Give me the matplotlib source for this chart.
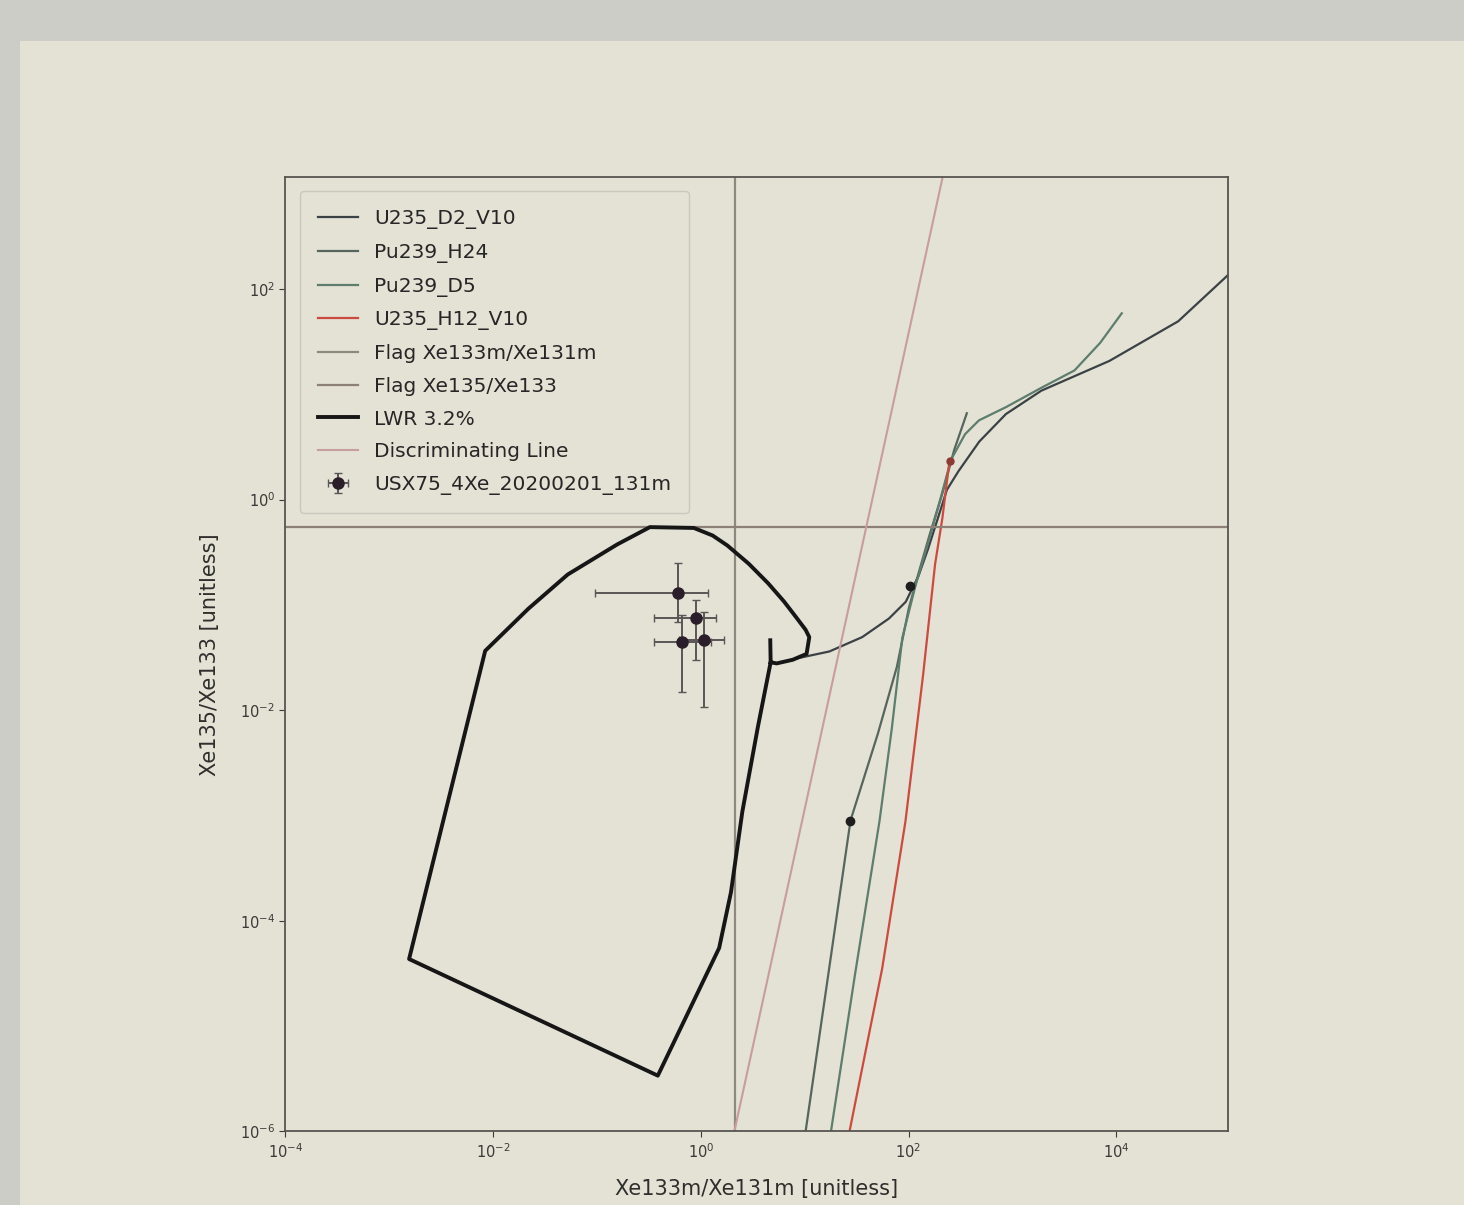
import matplotlib
matplotlib.use("Agg")
import matplotlib.pyplot as plt
from matplotlib.patches import Rectangle

# ---- data (log-log axes) ----
# LWR 3.2% region outline (starts at the small stub, goes round, closes on the stub foot)
lwr_x = [4.66, 4.70, 3.54, 2.51, 1.95, 1.50, 0.385, 0.00155, 0.00838, 0.0218, 0.0522,
         0.156, 0.323, 0.857, 1.30, 1.80, 2.90, 4.45, 6.30, 8.20, 10.2, 11.07, 10.42, 7.66, 5.37, 4.70]
lwr_y = [0.0461, 0.0285, 0.00692, 0.00109, 1.87e-4, 5.52e-5, 3.39e-6, 4.34e-5, 0.0366, 0.0918, 0.194,
         0.374, 0.547, 0.537, 0.455, 0.366, 0.245, 0.160, 0.108, 0.0771, 0.0580, 0.0494, 0.0342, 0.0301, 0.0278, 0.0285]

u235_d2_x = [6.41, 8.91, 17.3, 35.8, 64.7, 93.9, 124.4, 153.6, 189.7, 234, 303, 480, 867, 1901, 8600, 39500, 119000]
u235_d2_y = [0.0290, 0.0314, 0.0361, 0.0494, 0.0741, 0.1067, 0.187, 0.336, 0.644, 1.236, 1.862, 3.55, 6.48, 10.8, 20.7, 49.2, 135]

pu239_h24_x = [10.2, 16.9, 27.6, 50.8, 77.3, 100.7, 124, 160, 210, 275, 364]
pu239_h24_y = [1e-6, 3.13e-5, 8.95e-4, 6.04e-3, 0.0259, 0.0933, 0.195, 0.467, 1.11, 2.95, 6.59]

pu239_d5_x = [17.9, 30.5, 52.5, 69.0, 87.1, 116.4, 153, 202, 256, 350, 476, 871, 1901, 3960, 7000, 11300]
pu239_d5_y = [1e-6, 3.09e-5, 8.83e-4, 6.70e-3, 0.0486, 0.151, 0.375, 1.0, 2.38, 4.17, 5.64, 7.55, 11.5, 16.8, 30.7, 58.6]

u235_h12_x = [27.0, 55.6, 93.3, 138, 180, 212, 248]
u235_h12_y = [1e-6, 3.48e-5, 8.75e-4, 0.0215, 0.242, 0.671, 2.33]

# time markers sitting on the curves
mark_x = [27.6, 104]
mark_y = [8.95e-4, 0.151]
mark_red_x = [248]
mark_red_y = [2.33]

flag_x133m = 2.15   # vertical flag, Xe133m/Xe131m
flag_x135 = 0.55    # horizontal flag, Xe135/Xe133

disc_x = [2.1, 215]
disc_y = [1e-6, 1.2e3]

# sample USX75_4Xe_20200201_131m
samp_x = [0.605, 0.893, 0.661, 1.076]
samp_y = [0.1306, 0.0752, 0.0448, 0.0463]
samp_xlo = [0.0957, 0.351, 0.354, 0.618]
samp_xhi = [1.179, 1.39, 1.255, 1.667]
samp_ylo = [0.068, 0.030, 0.0150, 0.0107]
samp_yhi = [0.252, 0.111, 0.0807, 0.0854]

paper = '#e4e1d5'
fig = plt.figure(figsize=(14.64, 12.05), dpi=100, facecolor='#cdcdc8')
fig.add_artist(Rectangle((0.014, 0.0), 0.986, 0.966, transform=fig.transFigure,
                         facecolor=paper, edgecolor='none', zorder=-10))
ax = fig.add_axes([0.195, 0.061, 0.644, 0.792])
ax.set_facecolor(paper)

ax.plot(u235_d2_x, u235_d2_y, color='#3b4245', lw=1.6, label='U235_D2_V10')
ax.plot(pu239_h24_x, pu239_h24_y, color='#56665e', lw=1.6, label='Pu239_H24')
ax.plot(pu239_d5_x, pu239_d5_y, color='#5d7d6d', lw=1.6, label='Pu239_D5')
ax.plot(u235_h12_x, u235_h12_y, color='#cc4a3e', lw=1.6, label='U235_H12_V10')
ax.axvline(flag_x133m, color='#8d8880', lw=1.6, label='Flag Xe133m/Xe131m')
ax.axhline(flag_x135, color='#8d8078', lw=1.6, label='Flag Xe135/Xe133')
ax.plot(lwr_x, lwr_y, color='#161616', lw=2.8, label='LWR 3.2%')
ax.plot(disc_x, disc_y, color='#c79e9c', lw=1.5, label='Discriminating Line')
ax.plot(mark_x, mark_y, 'o', color='#1e1e1e', ms=6)
ax.plot(mark_red_x, mark_red_y, 'o', color='#8e3a34', ms=5)

xerr = [[x - lo for x, lo in zip(samp_x, samp_xlo)], [hi - x for x, hi in zip(samp_x, samp_xhi)]]
yerr = [[y - lo for y, lo in zip(samp_y, samp_ylo)], [hi - y for y, hi in zip(samp_y, samp_yhi)]]
ax.errorbar(samp_x, samp_y, xerr=xerr, yerr=yerr, fmt='o', color='#2b1e2b', ms=8,
            ecolor='#5a5656', elinewidth=1.4, capsize=3, label='USX75_4Xe_20200201_131m')

ax.set_xscale('log')
ax.set_yscale('log')
ax.set_xlim(1e-4, 1.2e5)
ax.set_ylim(1e-6, 1.15e3)
ax.set_xticks([1e-4, 1e-2, 1, 1e2, 1e4])
ax.set_yticks([1e-6, 1e-4, 1e-2, 1, 1e2])
ax.minorticks_off()
ax.tick_params(labelsize=10.5, colors='#3a3a38', length=4)
for s in ax.spines.values():
    s.set_color('#56554f')
    s.set_linewidth(1.3)

ax.set_xlabel('Xe133m/Xe131m [unitless]', fontsize=15, color='#2e2e2c', labelpad=13)
ax.set_ylabel('Xe135/Xe133 [unitless]', fontsize=15, color='#2e2e2c', labelpad=14)

leg = ax.legend(loc='upper left', fontsize=14.5, facecolor=paper, edgecolor='#cac7bd',
                framealpha=1.0, fancybox=True, labelspacing=0.68, borderpad=0.9,
                borderaxespad=0.7)
for t in leg.get_texts():
    t.set_color('#262626')

fig.savefig('out.png', dpi=100, facecolor=fig.get_facecolor())
